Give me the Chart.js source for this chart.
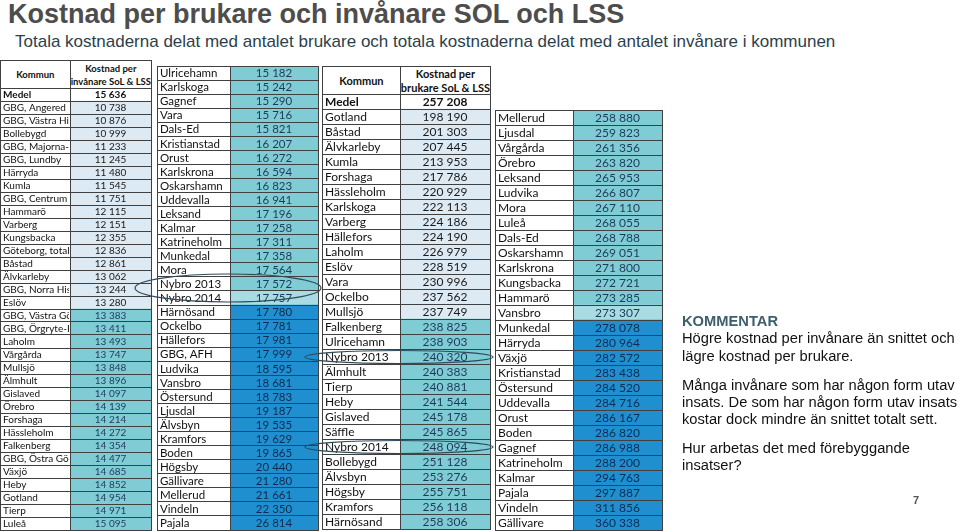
<!DOCTYPE html>
<html lang="sv">
<head>
<meta charset="utf-8">
<script src="https://cdn.jsdelivr.net/npm/chart.js@4/dist/chart.umd.min.js"></script>
<style>
  body { margin: 0; width: 960px; height: 532px; background: #fff; position: relative; overflow: hidden;
         font-family: "Liberation Sans", Arial, sans-serif; }
  h1 { position: absolute; left: 8px; top: -1px; margin: 0; font-size: 27px; line-height: 30px; color: #4d4d4d; }
  .sub { position: absolute; left: 15px; top: 32px; font-size: 17px; line-height: 20px; color: #2b3f4c; }
  canvas { position: absolute; }
  .hdr { position: absolute; display: flex; box-sizing: border-box; border: 1px solid #404040;
         font-family: Lato, sans-serif; font-weight: bold; color: #111; white-space: nowrap; }
  .hdr div { display: flex; align-items: center; justify-content: center; text-align: center; box-sizing: border-box; }
  .hdr div:first-child { border-right: 1px solid #404040; }
  .note { position: absolute; left: 682px; top: 313px; width: 278px; font-size: 14.7px; line-height: 17.3px; color: #111; }
  .note p { margin: 0 0 11.7px 0; }
  .note b { color: #3d5f6c; }
  .page { position: absolute; left: 913px; top: 494px; font-size: 11px; font-weight: bold; color: #555; }
  svg { position: absolute; left: 0; top: 0; pointer-events: none; }
</style>
</head>
<body>
<h1>Kostnad per brukare och invånare SOL och LSS</h1>
<div class="sub">Totala kostnaderna delat med antalet brukare och totala kostnaderna delat med antalet invånare i kommunen</div>

<div class="hdr" style="left:0;top:60px;width:152px;height:29px;font-size:9.5px;line-height:13px">
  <div style="width:70px">Kommun</div><div style="flex:1">Kostnad per<br>invånare SoL &amp; LSS</div>
</div>
<div class="hdr" style="left:322px;top:66px;width:169px;height:29px;font-size:11px;line-height:14px">
  <div style="width:78px">Kommun</div><div style="flex:1">Kostnad per<br>brukare SoL &amp; LSS</div>
</div>

<canvas id="tabA" width="153" height="444" style="left:-1px;top:87px"></canvas>
<canvas id="tabB" width="163" height="466" style="left:156px;top:65px"></canvas>
<canvas id="tabC" width="170" height="437" style="left:321px;top:93px"></canvas>
<canvas id="tabD" width="169" height="422" style="left:494px;top:109px"></canvas>

<svg width="960" height="532">
  <g fill="none" stroke="#2f4b5a" stroke-width="1.2">
    <ellipse cx="228" cy="288" rx="93" ry="14"/>
    <ellipse cx="399" cy="357" rx="94" ry="6.5"/>
    <ellipse cx="399" cy="447" rx="94" ry="6.5"/>
  </g>
</svg>

<div class="note">
  <b>KOMMENTAR</b><br>
  <p>Högre kostnad per invånare än snittet och lägre kostnad per brukare.</p>
  <p>Många invånare som har någon form utav insats. De som har någon form utav insats kostar dock mindre än snittet totalt sett.</p>
  <p>Hur arbetas det med förebyggande insatser?</p>
</div>
<div class="page">7</div>

<script>
// kostnad per invånare, sorted ascending (two table columns)
const invKommun = [
  'GBG, Angered', 'GBG, Västra Hisingen', 'Bollebygd', 'GBG, Majorna-Linné', 'GBG, Lundby', 'Härryda',
  'Kumla', 'GBG, Centrum', 'Hammarö', 'Varberg', 'Kungsbacka', 'Göteborg, totalt', 'Båstad', 'Älvkarleby',
  'GBG, Norra Hisingen', 'Eslöv', 'GBG, Västra Göteborg', 'GBG, Örgryte-Härlanda', 'Laholm', 'Vårgårda',
  'Mullsjö', 'Älmhult', 'Gislaved', 'Örebro', 'Forshaga', 'Hässleholm', 'Falkenberg', 'GBG, Östra Göteborg',
  'Växjö', 'Heby', 'Gotland', 'Tierp', 'Luleå',
  'Ulricehamn', 'Karlskoga', 'Gagnef', 'Vara', 'Dals-Ed', 'Kristianstad', 'Orust', 'Karlskrona', 'Oskarshamn',
  'Uddevalla', 'Leksand', 'Kalmar', 'Katrineholm', 'Munkedal', 'Mora', 'Nybro 2013', 'Nybro 2014', 'Härnösand',
  'Ockelbo', 'Hällefors', 'GBG, AFH', 'Ludvika', 'Vansbro', 'Östersund', 'Ljusdal', 'Älvsbyn', 'Kramfors',
  'Boden', 'Högsby', 'Gällivare', 'Mellerud', 'Vindeln', 'Pajala'
];
const invKostnad = [
  10738, 10876, 10999, 11233, 11245, 11480, 11545, 11751, 12115, 12151, 12355, 12836, 12861, 13062,
  13244, 13280, 13383, 13411, 13493, 13747, 13848, 13896, 14097, 14139, 14214, 14272, 14354, 14477,
  14685, 14852, 14954, 14971, 15095,
  15182, 15242, 15290, 15716, 15821, 16207, 16272, 16594, 16823, 16941, 17196, 17258, 17311, 17358,
  17564, 17572, 17757, 17780, 17781, 17981, 17999, 18595, 18681, 18783, 19187, 19535, 19629, 19865,
  20440, 21280, 21661, 22350, 26814
];
const invMedel = 15636;
const invSplit = 33;

// kostnad per brukare, sorted ascending
const brukKommun = [
  'Gotland', 'Båstad', 'Älvkarleby', 'Kumla', 'Forshaga', 'Hässleholm', 'Karlskoga', 'Varberg', 'Hällefors',
  'Laholm', 'Eslöv', 'Vara', 'Ockelbo', 'Mullsjö', 'Falkenberg', 'Ulricehamn', 'Nybro 2013', 'Älmhult',
  'Tierp', 'Heby', 'Gislaved', 'Säffle', 'Nybro 2014', 'Bollebygd', 'Älvsbyn', 'Högsby', 'Kramfors', 'Härnösand',
  'Mellerud', 'Ljusdal', 'Vårgårda', 'Örebro', 'Leksand', 'Ludvika', 'Mora', 'Luleå', 'Dals-Ed', 'Oskarshamn',
  'Karlskrona', 'Kungsbacka', 'Hammarö', 'Vansbro', 'Munkedal', 'Härryda', 'Växjö', 'Kristianstad',
  'Östersund', 'Uddevalla', 'Orust', 'Boden', 'Gagnef', 'Katrineholm', 'Kalmar', 'Pajala', 'Vindeln', 'Gällivare'
];
const brukKostnad = [
  198190, 201303, 207445, 213953, 217786, 220929, 222113, 224186, 224190, 226979, 228519, 230996, 237562,
  237749, 238825, 238903, 240320, 240383, 240881, 241544, 245178, 245865, 248094, 251128, 253276, 255751,
  256118, 258306,
  258880, 259823, 261356, 263820, 265953, 266807, 267110, 268055, 268788, 269051, 271800, 272721, 273285,
  273307, 278078, 280964, 282572, 283438, 284520, 284716, 286167, 286820, 286988, 288200, 294763, 297887,
  311856, 360338
];
const brukMedel = 257208;
const brukSplit = 28;

// colour bands
const invBreaks = [13300, 17700, 17770];
const brukBreaks = [238000, 273300, 274000];
const bandFill = ['#dde9f3', '#80ccd4', '#a8dce2', '#1f8fd0'];
const bandText = ['#1a1a1a', '#1d3a5c', '#1d3a5c', '#0f2b52'];

function fmt(v) {
    return String(v).replace(/\B(?=(\d{3})+(?!\d))/g, ' ');
}

const cellText = {
    id: 'cellText',
    afterDraw(chart, args, opts) {
        const ctx = chart.ctx;
        const names = chart.getDatasetMeta(0).data;
        const vals = chart.getDatasetMeta(1).data;
        ctx.save();
        ctx.textBaseline = 'middle';
        names.forEach((el, i) => {
            const p = el.getProps(['x', 'y', 'base', 'height'], true);
            const v = vals[i].getProps(['x', 'y', 'base'], true);
            const bold = opts.medel && i === 0;
            ctx.font = (bold ? 'bold ' : '') + opts.size + 'px Lato';
            ctx.save();
            ctx.beginPath();
            ctx.rect(p.base, p.y - p.height / 2, p.x - p.base - 1, p.height);
            ctx.clip();
            ctx.fillStyle = '#111';
            ctx.textAlign = 'left';
            ctx.fillText(chart.data.labels[i], p.base + 2.5, p.y + 0.5);
            ctx.restore();
            ctx.fillStyle = opts.colors[i];
            ctx.textAlign = 'center';
            ctx.fillText(fmt(opts.values[i]), (v.base + v.x) / 2, v.y + 0.5);
        });
        ctx.restore();
    }
};

function makeTable(id, names, values, breaks, split, medel, size) {
    const rows = medel == null ? names : ['Medel'].concat(names);
    const vals = medel == null ? values : [medel].concat(values);
    const band = vals.map(v => breaks.filter(b => v >= b).length);
    const isMedel = i => medel != null && i === 0;
    const line = '#404040';
    new Chart(document.getElementById(id), {
        type: 'bar',
        data: {
            labels: rows,
            datasets: [{
                data: rows.map(() => [0, split]),
                backgroundColor: '#ffffff',
                grouped: false, barPercentage: 1, categoryPercentage: 1, borderWidth: 0
            }, {
                data: vals.map(() => [split, 1]),
                backgroundColor: vals.map((v, i) => isMedel(i) ? '#ffffff' : bandFill[band[i]]),
                grouped: false, barPercentage: 1, categoryPercentage: 1, borderWidth: 0
            }]
        },
        options: {
            indexAxis: 'y',
            responsive: false,
            animation: false,
            events: [],
            layout: { padding: 1 },
            plugins: {
                legend: { display: false },
                tooltip: { enabled: false },
                cellText: {
                    values: vals,
                    medel: medel != null,
                    size: size,
                    colors: vals.map((v, i) => isMedel(i) ? '#111' : bandText[band[i]])
                }
            },
            scales: {
                x: {
                    min: 0, max: 1,
                    afterBuildTicks: axis => { axis.ticks = [{ value: 0 }, { value: split }, { value: 1 }]; },
                    ticks: { display: false },
                    grid: { color: line, drawTicks: false, z: 1 },
                    border: { color: line, z: 1 }
                },
                y: {
                    ticks: { display: false },
                    grid: { color: line, drawTicks: false, offset: true, z: 1 },
                    border: { color: line, z: 1 }
                }
            }
        },
        plugins: [cellText]
    });
}

makeTable('tabA', invKommun.slice(0, invSplit), invKostnad.slice(0, invSplit), invBreaks, 70 / 151, invMedel, 10);
makeTable('tabB', invKommun.slice(invSplit), invKostnad.slice(invSplit), invBreaks, 73 / 161, null, 11.5);
makeTable('tabC', brukKommun.slice(0, brukSplit), brukKostnad.slice(0, brukSplit), brukBreaks, 78 / 168, brukMedel, 12);
makeTable('tabD', brukKommun.slice(brukSplit), brukKostnad.slice(brukSplit), brukBreaks, 78 / 167, null, 12);
</script>
</body>
</html>
